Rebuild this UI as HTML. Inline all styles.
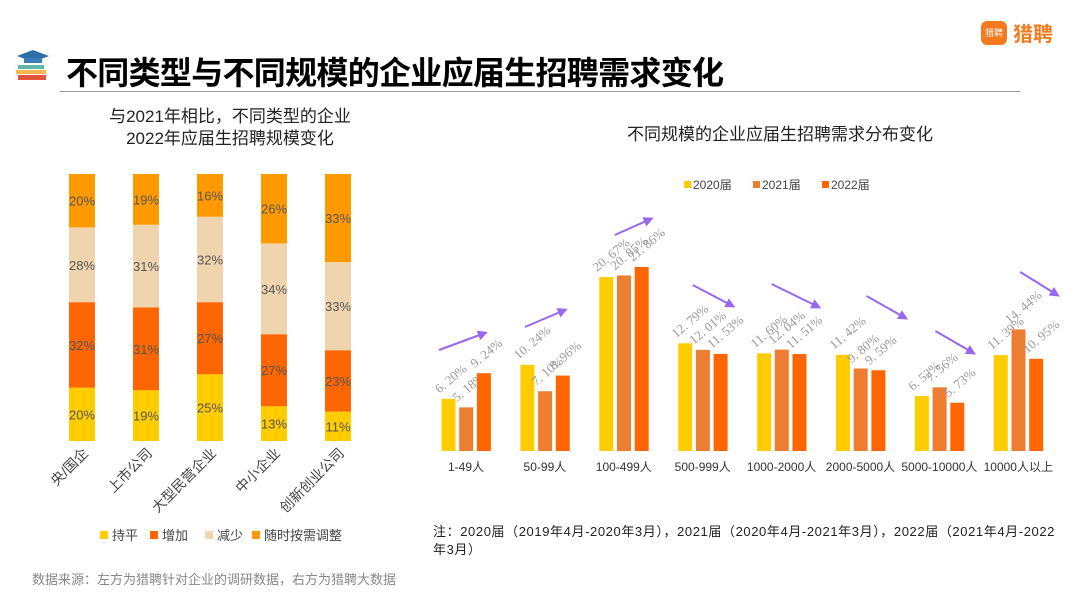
<!DOCTYPE html>
<html><head><meta charset="utf-8">
<style>
body{margin:0;width:1080px;height:608px;background:#fff;position:relative;overflow:hidden;font-family:"Liberation Sans","Noto Sans CJK SC",sans-serif;}
.abs{position:absolute;}
</style></head>
<body>
<svg class="abs" style="left:14px;top:48px" width="38" height="34" viewBox="0 0 38 34">
<polygon points="19,2 35,8 19,14 3,8" fill="#2e6fa6"/><rect x="10" y="10" width="18" height="5" fill="#3b7cb5"/>
<rect x="4" y="17" width="26" height="4" fill="#5fb7a8"/><rect x="2" y="22" width="30" height="4" fill="#f2b84b"/><rect x="4" y="27" width="28" height="5" fill="#e5533d"/>
</svg>
<div class="abs" style="left:66px;top:48px;font-size:32px;font-weight:bold;letter-spacing:-0.7px;color:#000;white-space:nowrap;">不同类型与不同规模的企业应届生招聘需求变化</div>
<div class="abs" style="left:60px;top:91px;width:960px;height:1px;background:#999;"></div>
<div class="abs" style="left:981px;top:18px;display:flex;align-items:center;">
<div style="width:26px;height:24px;background:#f37a1f;border-radius:6px;color:#fff;font-size:9px;display:flex;align-items:center;justify-content:center;">猎聘</div>
<span style="color:#f37a1f;font-size:20px;font-weight:bold;margin-left:6px;">猎聘</span></div>

<div class="abs" style="left:80px;top:106px;width:300px;text-align:center;font-size:17px;line-height:22px;color:#222;">与2021年相比，不同类型的企业<br>2022年应届生招聘规模变化</div>
<div class="abs" style="left:560px;top:120px;width:440px;text-align:center;font-size:17px;color:#222;">不同规模的企业应届生招聘需求分布变化</div>

<svg class="abs" style="left:0;top:0" width="1080" height="608" id="charts"></svg>

<div class="abs" style="left:433px;top:523px;width:640px;font-size:13px;letter-spacing:0.6px;line-height:18px;color:#222;white-space:nowrap;">注：2020届（2019年4月-2020年3月），2021届（2020年4月-2021年3月），2022届（2021年4月-2022<br>年3月）</div>
<div class="abs" style="left:32px;top:569px;font-size:13px;color:#888;">数据来源：左方为猎聘针对企业的调研数据，右方为猎聘大数据</div>

<script>
const leftCats=["央/国企","上市公司","大型民营企业","中小企业","创新创业公司"];
const leftSeries=["持平","增加","减少","随时按需调整"];
const flatVals=[20,19,25,13,11];
const incVals=[32,31,27,27,23];
const decVals=[28,31,32,34,33];
const adjVals=[20,19,16,26,33];

const rightCats=["1-49人","50-99人","100-499人","500-999人","1000-2000人","2000-5000人","5000-10000人","10000人以上"];
const rightSeries=["2020届","2021届","2022届"];
const v2020=[6.20,10.24,20.67,12.79,11.60,11.42,6.52,11.39];
const v2021=[5.18,7.10,20.85,12.01,12.04,9.80,7.56,14.44];
const v2022=[9.24,8.96,21.86,11.53,11.51,9.59,5.73,10.95];

const NS="http://www.w3.org/2000/svg";
const svg=document.getElementById('charts');
function mk(t,a,txt){const e=document.createElementNS(NS,t);for(const k in a)e.setAttribute(k,a[k]);if(txt!=null)e.textContent=txt;svg.appendChild(e);return e;}

// left stacked chart
const lColors=["#ffcc00","#ff6600","#f0d4ad","#ff9900"];
const lVals=[flatVals,incVals,decVals,adjVals];
const lx=i=>69+i*64, lTop=174, lBot=441;
const ly=p=>(lBot-lTop)*p/100;
leftCats.forEach((c,i)=>{
  const tot=lVals.reduce((s,a)=>s+a[i],0);
  let y=lBot;
  lVals.forEach((arr,s)=>{
    const h=ly(arr[i]/tot*100);
    const r=mk('rect',{x:lx(i),y:y-h,width:26,height:h,fill:lColors[s]});
    
    
    const t=mk('text',{x:lx(i)+13,y:y-h/2+5,'text-anchor':'middle','font-size':13,fill:'#555'},arr[i]+'%');
    
    
    y-=h;
  });
  const tl=mk('text',{x:lx(i)+20,y:454,'text-anchor':'end','font-size':14,fill:'#444',transform:`rotate(-45 ${lx(i)+20} 454)`},c);
  
  
});
leftSeries.forEach((s,i)=>{
  const xs=[100,150,205,252][i];
  const r=mk('rect',{x:xs,y:531,width:8,height:8,fill:lColors[i]});
  
  
  const t=mk('text',{x:xs+12,y:540,'font-size':13,fill:'#444'},s);
  
  
});

// right grouped chart
const rColors=["#ffcc00","#ed7d31","#ff6600"];
const rVals=[v2020,v2021,v2022];
const base=451, scale=8.42;
const gx=i=>466+i*78.9;
const ry=v=>base-v*scale;
// decorative trend arrows: offsets relative to group center (dx1,y1,dx2,y2)
const arrowGeom=[[-27,350,19,333],[-20,327,20,310],[-9,235,27,219],[-10,285,30,306],[-10,284,37,307],[6,296,45,318],[-4,331,34,353],[2,272,39,295]];
rightCats.forEach((c,i)=>{
  rVals.forEach((arr,s)=>{
    const x=gx(i)-24.5+s*17.7;
    const r=mk('rect',{x:x,y:ry(arr[i]),width:14,height:base-ry(arr[i]),fill:rColors[s]});
    
    
    const lx2=x-2, ly2=ry(arr[i])-5;
    const t=mk('text',{x:lx2,y:ly2,'font-size':13,fill:'#999','font-family':'Liberation Serif, serif',transform:`rotate(-40 ${lx2} ${ly2})`},arr[i].toFixed(2).replace('.','. ')+'%');
    
    
  });
  const tl=mk('text',{x:gx(i),y:471,'text-anchor':'middle','font-size':12,fill:'#333'},c);
  
  
  const g=arrowGeom[i];
  const x1=gx(i)+g[0],y1=g[1],x2=gx(i)+g[2],y2=g[3];
  const a=mk('line',{x1:x1,y1:y1,x2:x2,y2:y2,stroke:'#9966ee','stroke-width':2});
  
  
  const ang=Math.atan2(y2-y1,x2-x1);
  const p=[[x2+3*Math.cos(ang),y2+3*Math.sin(ang)],[x2-7*Math.cos(ang)+5*Math.sin(ang),y2-7*Math.sin(ang)-5*Math.cos(ang)],[x2-7*Math.cos(ang)-5*Math.sin(ang),y2-7*Math.sin(ang)+5*Math.cos(ang)]];
  const h=mk('polygon',{points:p.map(q=>q.join(',')).join(' '),fill:'#9966ee'});
  
  
});
rightSeries.forEach((s,i)=>{
  const xs=684+i*69;
  const r=mk('rect',{x:xs,y:181,width:7,height:7,fill:rColors[i]});
  
  
  const t=mk('text',{x:xs+9,y:189,'font-size':12,fill:'#444'},s);
  
  
});
</script>
</body></html>
